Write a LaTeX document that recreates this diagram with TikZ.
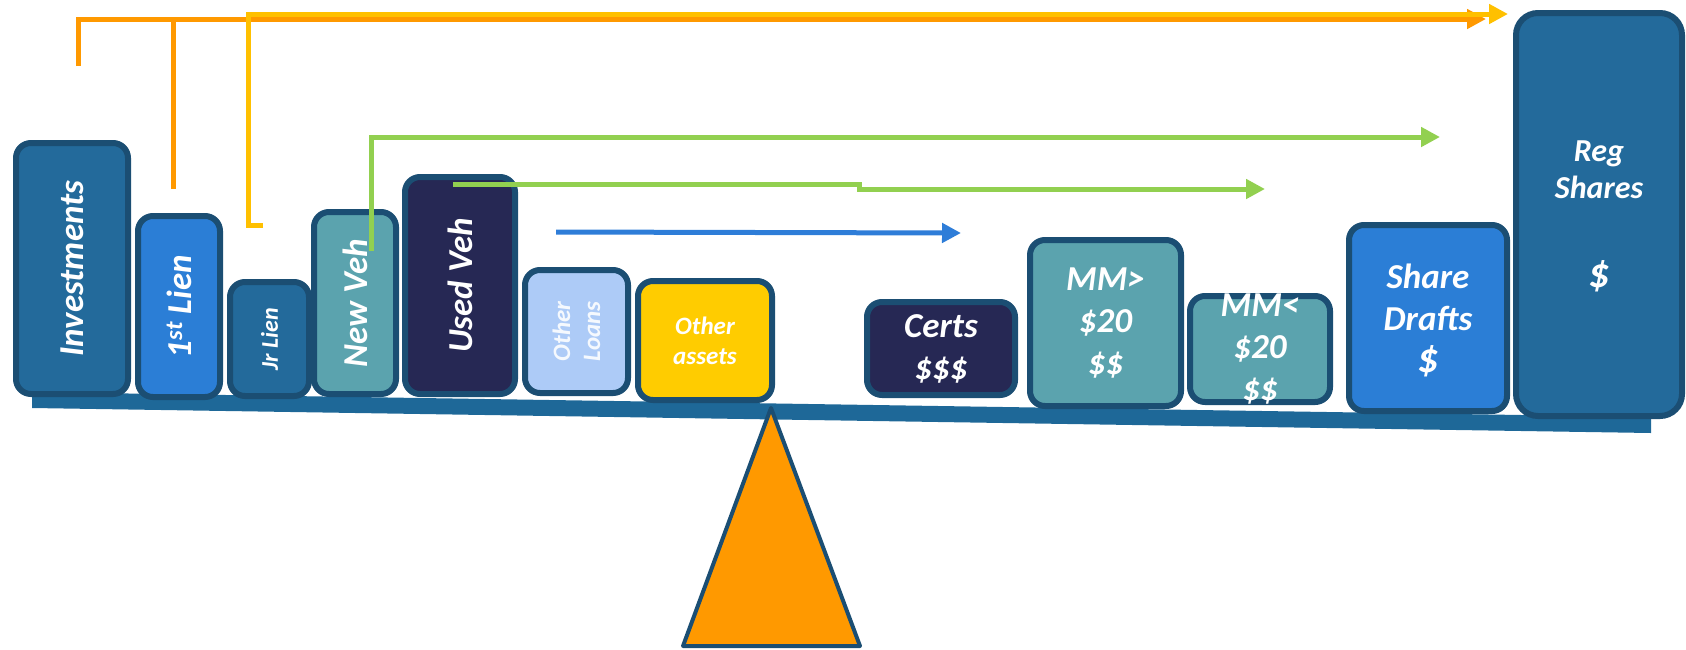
\documentclass[tikz,border=0pt]{standalone}
\usepackage{fontspec}
\setmainfont{Carlito}
\usetikzlibrary{arrows.meta}

\definecolor{edge}{RGB}{27,78,115}
\definecolor{steel}{RGB}{35,106,155}
\definecolor{bright}{RGB}{43,126,214}
\definecolor{teal}{RGB}{91,163,174}
\definecolor{navy}{RGB}{38,40,84}
\definecolor{pale}{RGB}{173,203,247}
\definecolor{gold}{RGB}{255,204,0}
\definecolor{beamc}{RGB}{30,104,152}
\definecolor{lineorange}{RGB}{255,153,0}
\definecolor{lineyellow}{RGB}{255,192,0}
\definecolor{linegreen}{RGB}{146,208,80}
\definecolor{lineblue}{RGB}{46,125,216}
\definecolor{fulcrum}{RGB}{255,153,0}

\newcommand{\bigdollar}{{\fontsize{42}{41}\selectfont\$}}

\tikzset{
  box/.style={draw=edge, line width=6pt, rounded corners=15pt, inner sep=0pt, outer sep=0pt},
  txt/.style={text=white, inner sep=0pt, align=center,
    font=\fontsize{35}{42}\selectfont\bfseries\itshape},
  small/.style={font=\fontsize{25}{30}\selectfont\bfseries\itshape},
  flow/.style={line width=5pt, -{Triangle[length=19pt,width=19pt]}},
}

\begin{document}
\begin{tikzpicture}[x=1pt,y=-1pt]
\useasboundingbox (0,0) rectangle (1686,649);

% the beam of the scale
\fill[beamc] (32,392) -- (1651,417) -- (1651,433) -- (32,408) -- cycle;

% assets on the left
\node[box, fill=steel,  minimum width=112pt, minimum height=251pt] (inv)    at (72,268.5)   {};
\node[box, fill=bright, minimum width=82pt,  minimum height=181pt] (lien)   at (179,306.5)  {};
\node[box, fill=steel,  minimum width=79pt,  minimum height=114pt] (jr)     at (269.5,339)  {};
\node[box, fill=teal,   minimum width=82pt,  minimum height=182pt] (newveh) at (355,303)    {};
\node[box, fill=navy,   minimum width=110pt, minimum height=217pt] (usedveh) at (460,285.5) {};
\node[box, fill=pale,   minimum width=103pt, minimum height=123pt] (oloans) at (576.5,331.5) {};
\node[box, fill=gold,   minimum width=134pt, minimum height=119pt] (oassets) at (705,340.5) {};

% shares on the right
\node[box, fill=navy,   minimum width=148pt, minimum height=93pt]  (certs)  at (941,348.5)  {};
\node[box, fill=teal,   minimum width=151pt, minimum height=166pt] (mmhi)   at (1105.5,323) {};
\node[box, fill=teal,   minimum width=140pt, minimum height=106pt] (mmlo)   at (1260,349)   {};
\node[box, fill=bright, minimum width=158pt, minimum height=186pt] (drafts) at (1428,318)   {};
\node[box, fill=steel,  minimum width=166pt, minimum height=403pt, rounded corners=22pt] (reg) at (1599,214.5) {};

% labels
\node[txt, rotate=90] (inv-t)     at (inv)     {Investments};
\node[txt, rotate=90] (lien-t)    at (lien)    {1\textsuperscript{st} Lien};
\node[txt, font=\fontsize{24}{29}\selectfont\bfseries\itshape, rotate=90] (jr-t) at (jr) {Jr Lien};
\node[txt, rotate=90] (newveh-t)  at (newveh)  {New Veh};
\node[txt, rotate=90] (usedveh-t) at (usedveh) {Used Veh};
\node[txt, small, rotate=90, text=white!88!pale] (oloans-t) at (oloans) {Other\\Loans};
\node[txt, small] (oassets-t) at (oassets) {Other\\assets};
\node[txt] (certs-t)  at (certs)  {Certs\\\$\$\$};
\node[txt] (mmhi-t)   at (mmhi)   {MM>\\\$20\\\$\$};
\node[txt] (mmlo-t)   at (mmlo)   {MM<\\\$20\\\$\$};
\node[txt, yshift=-2pt] (drafts-t) at (drafts) {Share\\Drafts\\\bigdollar};
\node[txt, font=\fontsize{32}{37}\selectfont\bfseries\itshape, yshift=-2pt] (reg-t) at (reg) {Reg\\Shares\\[52pt]\bigdollar};

% the fulcrum
\draw[fill=fulcrum, draw=edge, line width=4pt, line join=round]
  (771,408) -- (860,646) -- (683,646) -- cycle;

% flows toward the share side
\coordinate (o-start) at (78,66);
\coordinate (o-tip)   at (1486,19);
\coordinate (l-start) at (173,189);
\coordinate (y-start) at (263,225);
\coordinate (y-bend)  at (248,225);
\coordinate (y-tip)   at (1508,14);
\coordinate (g-start) at (371,251);
\coordinate (g-tip)   at (1440,137);
\coordinate (h-start) at (453,184);
\coordinate (h-step)  at (859,184);
\coordinate (h-low)   at (859,189);
\coordinate (h-tip)   at (1265,189);
\coordinate (b-start) at (556,232);
\coordinate (b-tip)   at (961,233);

\draw[flow, lineorange] (o-start) |- (o-tip);
\draw[line width=5pt, lineorange] (l-start) -- (l-start |- o-tip);
\draw[flow, lineyellow] (y-start) -- (y-bend) |- (y-tip);
\draw[flow, linegreen] (g-start) |- (g-tip);
\draw[flow, linegreen] (h-start) -- (h-step) -- (h-low) -- (h-tip);
\draw[flow, lineblue] (b-start) -- (b-tip);
\end{tikzpicture}
\end{document}
